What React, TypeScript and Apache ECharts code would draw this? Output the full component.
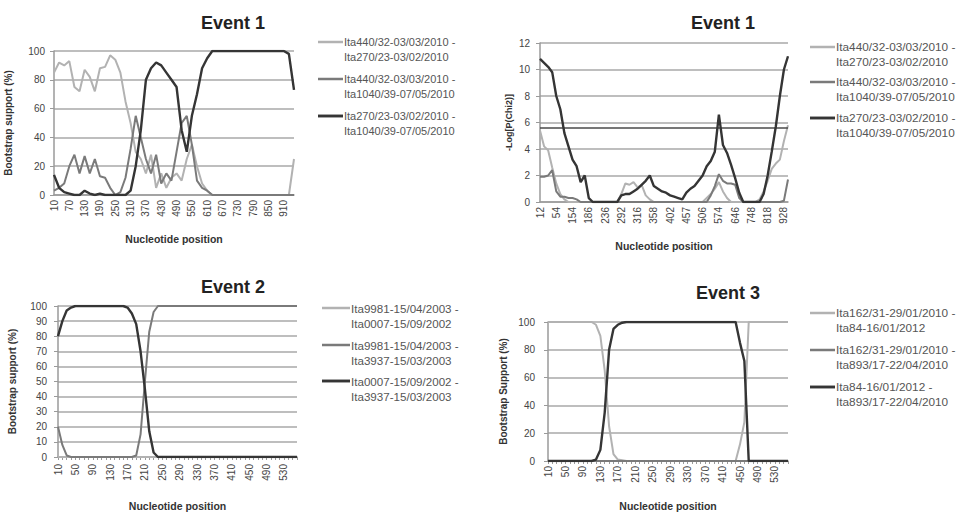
import React, { useEffect, useRef } from "react";
import * as echarts from "echarts";

// ---------- Panel 1 (Event 1, bootstrap) ----------
const p1Positions = [10, 30, 50, 70, 90, 110, 130, 150, 170, 190, 210, 230, 250, 270, 290, 310, 330, 350, 370, 390, 410, 430, 450, 470, 490, 510, 530, 550, 570, 590, 610, 630, 650, 670, 690, 710, 730, 750, 770, 790, 810, 830, 850, 870, 890, 910, 930, 950];
const p1Light = [85, 92, 90, 93, 75, 72, 87, 82, 72, 88, 89, 97, 94, 85, 65, 50, 30, 25, 15, 28, 5, 15, 5, 12, 15, 10, 25, 35, 20, 8, 3, 0, 0, 0, 0, 0, 0, 0, 0, 0, 0, 0, 0, 0, 0, 0, 0, 25];
const p1Medium = [3, 5, 8, 20, 28, 15, 27, 15, 25, 13, 12, 5, 0, 2, 12, 32, 55, 40, 25, 15, 28, 8, 15, 10, 30, 50, 55, 35, 10, 5, 3, 0, 0, 0, 0, 0, 0, 0, 0, 0, 0, 0, 0, 0, 0, 0, 0, 0];
const p1Dark = [14, 5, 2, 1, 0, 0, 3, 1, 0, 1, 0, 0, 0, 0, 0, 3, 20, 45, 80, 88, 92, 90, 85, 80, 75, 45, 30, 55, 70, 88, 95, 100, 100, 100, 100, 100, 100, 100, 100, 100, 100, 100, 100, 100, 100, 100, 98, 73];
const p1Legend = [
  "Ita440/32-03/03/2010 -\nIta270/23-03/02/2010",
  "Ita440/32-03/03/2010 -\nIta1040/39-07/05/2010",
  "Ita270/23-03/02/2010 -\nIta1040/39-07/05/2010",
];

// ---------- Panel 2 (Event 1, -Log P) ----------
const p2Positions = [12, 22, 33, 43, 54, 79, 104, 129, 154, 162, 170, 178, 186, 198, 211, 223, 236, 250, 264, 278, 292, 298, 304, 310, 316, 326, 337, 347, 358, 369, 380, 391, 402, 416, 429, 443, 457, 469, 482, 494, 506, 523, 540, 557, 574, 592, 610, 628, 646, 671, 697, 722, 748, 765, 783, 800, 818, 845, 873, 900, 928, 937];
const p2Light = [5.4, 4.2, 3.9, 2.6, 1.4, 0.6, 0.2, 0, 0, 0, 0, 0, 0, 0, 0, 0, 0, 0, 0, 0, 0.6, 1.4, 1.3, 1.5, 1.1, 1.3, 0.5, 0.2, 0, 0, 0, 0, 0, 0, 0, 0, 0, 0, 0, 0, 0, 0.3, 0.6, 1.0, 1.5, 0.8, 0.3, 0, 0, 0, 0, 0, 0, 0, 0.2, 0.8, 1.6, 2.5, 2.9, 3.2, 4.6, 5.8];
const p2Medium = [1.9, 1.9, 2.0, 2.4, 0.8, 0.4, 0.4, 0.3, 0.3, 0.2, 0, 0, 0, 0, 0, 0, 0, 0, 0, 0, 0, 0, 0, 0, 0, 0, 0, 0, 0, 0, 0, 0, 0, 0, 0, 0, 0, 0, 0, 0, 0, 0, 0.5, 1.2, 2.1, 1.6, 1.4, 1.4, 1.3, 0.3, 0, 0, 0, 0, 0, 0, 0, 0, 0, 0, 0.1, 1.7];
const p2Dark = [10.8, 10.5, 10.2, 9.8, 8.0, 7.0, 5.2, 4.2, 3.2, 2.7, 1.5, 2.0, 0.3, 0, 0, 0, 0, 0, 0, 0, 0.5, 0.6, 0.6, 0.8, 1.0, 1.3, 1.6, 2.0, 1.2, 1.0, 0.8, 0.7, 0.5, 0.4, 0.3, 0.2, 0.7, 1.0, 1.2, 1.6, 2.0, 2.7, 3.1, 3.8, 6.6, 4.3, 3.7, 2.8, 1.8, 0.7, 0, 0, 0, 0, 0, 0.6, 2.0, 3.8, 5.7, 8.0, 10.0, 11.0];
const p2Threshold = 5.6;
const p2Legend = p1Legend;

// ---------- Panel 3 (Event 2) ----------
const p3Positions = [10, 20, 30, 40, 50, 60, 70, 80, 90, 100, 110, 120, 130, 140, 150, 160, 170, 180, 190, 200, 210, 220, 230, 240, 250, 260, 270, 280, 290, 300, 310, 320, 330, 340, 350, 360, 370, 380, 390, 400, 410, 420, 430, 440, 450, 460, 470, 480, 490, 500, 510, 520, 530, 540, 550, 560];
const p3Light = [0, 0, 0, 0, 0, 0, 0, 0, 0, 0, 0, 0, 0, 0, 0, 0, 0, 0, 0, 0, 0, 0, 0, 0, 0, 0, 0, 0, 0, 0, 0, 0, 0, 0, 0, 0, 0, 0, 0, 0, 0, 0, 0, 0, 0, 0, 0, 0, 0, 0, 0, 0, 0, 0, 0, 0];
const p3Medium = [20, 8, 1, 0, 0, 0, 0, 0, 0, 0, 0, 0, 0, 0, 0, 0, 0, 0, 1, 15, 50, 83, 96, 100, 100, 100, 100, 100, 100, 100, 100, 100, 100, 100, 100, 100, 100, 100, 100, 100, 100, 100, 100, 100, 100, 100, 100, 100, 100, 100, 100, 100, 100, 100, 100, 100];
const p3Dark = [80, 90, 97, 99, 100, 100, 100, 100, 100, 100, 100, 100, 100, 100, 100, 100, 99, 95, 88, 70, 45, 17, 3, 0, 0, 0, 0, 0, 0, 0, 0, 0, 0, 0, 0, 0, 0, 0, 0, 0, 0, 0, 0, 0, 0, 0, 0, 0, 0, 0, 0, 0, 0, 0, 0, 0];
const p3Legend = [
  "Ita9981-15/04/2003 -\nIta0007-15/09/2002",
  "Ita9981-15/04/2003 -\nIta3937-15/03/2003",
  "Ita0007-15/09/2002 -\nIta3937-15/03/2003",
];

// ---------- Panel 4 (Event 3) ----------
const p4Positions = p3Positions;
const p4Light = [100, 100, 100, 100, 100, 100, 100, 100, 100, 100, 100, 98, 90, 65, 25, 5, 1, 0.5, 0, 0, 0, 0, 0, 0, 0, 0, 0, 0, 0, 0, 0, 0, 0, 0, 0, 0, 0, 0, 0, 0, 0, 0, 0, 0, 12, 28, 100, 100, 100, 100, 100, 100, 100, 100, 100, 100];
const p4Medium = [0, 0, 0, 0, 0, 0, 0, 0, 0, 0, 0, 0, 0, 0, 0, 0, 0, 0, 0, 0, 0, 0, 0, 0, 0, 0, 0, 0, 0, 0, 0, 0, 0, 0, 0, 0, 0, 0, 0, 0, 0, 0, 0, 0, 0, 0, 0, 0, 0, 0, 0, 0, 0, 0, 0, 0];
const p4Dark = [0, 0, 0, 0, 0, 0, 0, 0, 0, 0, 0, 1, 8, 35, 80, 95, 98, 99.5, 100, 100, 100, 100, 100, 100, 100, 100, 100, 100, 100, 100, 100, 100, 100, 100, 100, 100, 100, 100, 100, 100, 100, 100, 100, 100, 85, 72, 0, 0, 0, 0, 0, 0, 0, 0, 0, 0];
const p4Legend = [
  "Ita162/31-29/01/2010 -\nIta84-16/01/2012",
  "Ita162/31-29/01/2010 -\nIta893/17-22/04/2010",
  "Ita84-16/01/2012 -\nIta893/17-22/04/2010",
];

const COLORS = ["#b2b2b2", "#7a7a7a", "#353535"];
const WIDTHS = [2, 2, 2.4];
const FONT = "'Liberation Sans', Arial, sans-serif";

const panels = [
  {
    title: "Event 1", titleX: 233, titleY: 23,
    grid: { left: 54, top: 51, width: 240, height: 144 },
    cats: p1Positions, data: [p1Light, p1Medium, p1Dark],
    yMax: 100, yInt: 20, labelInt: 2, minorTicks: false,
    yName: "Bootstrap support (%)", yNameGap: 41, yNameSize: 10, yLabelMargin: 9,
    xNameGap: 38, xLabelMargin: 5,
    legend: p1Legend, legX: 318, legLen: 25, legY: [42, 79, 116], legFont: 11,
  },
  {
    title: "Event 1", titleX: 723, titleY: 23,
    grid: { left: 540, top: 43, width: 248, height: 159 },
    cats: p2Positions, data: [p2Light, p2Medium, p2Dark],
    yMax: 12, yInt: 2, labelInt: 3, minorTicks: false,
    yName: "-Log[P(Chi2)]", yNameGap: 27, yNameSize: 9, yLabelMargin: 10,
    xNameGap: 38, xLabelMargin: 5,
    legend: p2Legend, legX: 810, legLen: 25, legY: [47, 82, 118], legFont: 11.8,
  },
  {
    title: "Event 2", titleX: 233, titleY: 287,
    grid: { left: 58, top: 306, width: 239, height: 158 },
    cats: p3Positions, data: [p3Light, p3Medium, p3Dark],
    yMax: 100, yInt: 10, labelInt: 3, minorTicks: true,
    yName: "Bootstrap support (%)", yNameGap: 41, yNameSize: 10, yLabelMargin: 11,
    xNameGap: 43, xLabelMargin: 7,
    legend: p3Legend, legX: 322, legLen: 28, legY: [308, 345, 381], legFont: 11.6,
  },
  {
    title: "Event 3", titleX: 728, titleY: 293,
    grid: { left: 548, top: 322, width: 240, height: 146 },
    cats: p4Positions, data: [p4Light, p4Medium, p4Dark],
    yMax: 100, yInt: 20, labelInt: 3, minorTicks: true,
    yName: "Bootstrap Support (%)", yNameGap: 40, yNameSize: 10, yLabelMargin: 13,
    xNameGap: 39, xLabelMargin: 5,
    legend: p4Legend, legX: 810, legLen: 25, legY: [313, 350, 387], legFont: 11.8,
  },
];

export default function App() {
  const ref = useRef<HTMLDivElement>(null);
  useEffect(() => {
    if (!ref.current) return;
    const chart = echarts.init(ref.current, null, { renderer: "svg" });
    const grid: any[] = [];
    const xAxis: any[] = [];
    const yAxis: any[] = [];
    const series: any[] = [];
    const graphic: any[] = [];

    panels.forEach((p, i) => {
      grid.push({ ...p.grid, containLabel: false });
      xAxis.push({
        type: "category",
        gridIndex: i,
        data: p.cats.map(String),
        boundaryGap: false,
        name: "Nucleotide position",
        nameLocation: "middle",
        nameGap: p.xNameGap,
        nameTextStyle: { fontFamily: FONT, fontSize: 10.5, fontWeight: "bold", color: "#333" },
        axisLine: { show: true, lineStyle: { color: "#9a9a9a", width: 1.5 } },
        axisTick: p.minorTicks
          ? { show: true, interval: 0, length: 3, lineStyle: { color: "#9a9a9a" } }
          : { show: false },
        axisLabel: {
          interval: p.labelInt,
          rotate: 90,
          margin: p.xLabelMargin,
          fontFamily: FONT,
          fontSize: 10,
          color: "#444",
        },
        splitLine: { show: false },
      });
      yAxis.push({
        type: "value",
        gridIndex: i,
        min: 0,
        max: p.yMax,
        interval: p.yInt,
        name: p.yName,
        nameLocation: "middle",
        nameGap: p.yNameGap,
        nameTextStyle: { fontFamily: FONT, fontSize: p.yNameSize, fontWeight: "bold", color: "#333" },
        axisLine: { show: true, lineStyle: { color: "#9a9a9a", width: 1.5 } },
        axisTick: { show: true, length: 4, lineStyle: { color: "#9a9a9a" } },
        axisLabel: { margin: p.yLabelMargin, fontFamily: FONT, fontSize: 10, color: "#444" },
        splitLine: { show: true, lineStyle: { color: "#a8a8a8", width: 1.5 } },
      });
      p.data.forEach((d, s) => {
        const ser: any = {
          type: "line",
          name: p.legend[s].replace("\n", " "),
          xAxisIndex: i,
          yAxisIndex: i,
          data: d,
          symbol: "none",
          showSymbol: false,
          lineStyle: { color: COLORS[s], width: WIDTHS[s] },
          itemStyle: { color: COLORS[s] },
          z: 3 + s,
          silent: true,
        };
        if (i === 1 && s === 2) {
          ser.markLine = {
            silent: true,
            symbol: "none",
            label: { show: false },
            lineStyle: { color: "#4a4a4a", width: 1.6, type: "solid" },
            data: [{ yAxis: p2Threshold }],
          };
        }
        series.push(ser);
      });

      graphic.push({
        type: "text",
        x: p.titleX,
        y: p.titleY,
        style: {
          text: p.title,
          align: "center",
          verticalAlign: "middle",
          fontFamily: FONT,
          fontSize: 18,
          fontWeight: "bold",
          fill: "#222",
        },
      });
      p.legend.forEach((name, s) => {
        const ly = p.legY[s];
        graphic.push({
          type: "line",
          shape: { x1: p.legX, y1: ly, x2: p.legX + p.legLen, y2: ly },
          style: { stroke: COLORS[s], lineWidth: WIDTHS[s] + 0.5 },
        });
        graphic.push({
          type: "text",
          x: p.legX + p.legLen + 1,
          y: ly - 7.5,
          style: {
            text: name,
            align: "left",
            verticalAlign: "top",
            lineHeight: 15,
            fontFamily: FONT,
            fontSize: p.legFont,
            fill: "#555",
          },
        });
      });
    });

    chart.setOption({
      animation: false,
      backgroundColor: "#ffffff",
      grid,
      xAxis,
      yAxis,
      series,
      graphic,
    });
    return () => chart.dispose();
  }, []);

  return (
    <div
      ref={ref}
      style={{ position: "fixed", left: 0, top: 0, width: 959, height: 512, background: "#fff" }}
    />
  );
}
